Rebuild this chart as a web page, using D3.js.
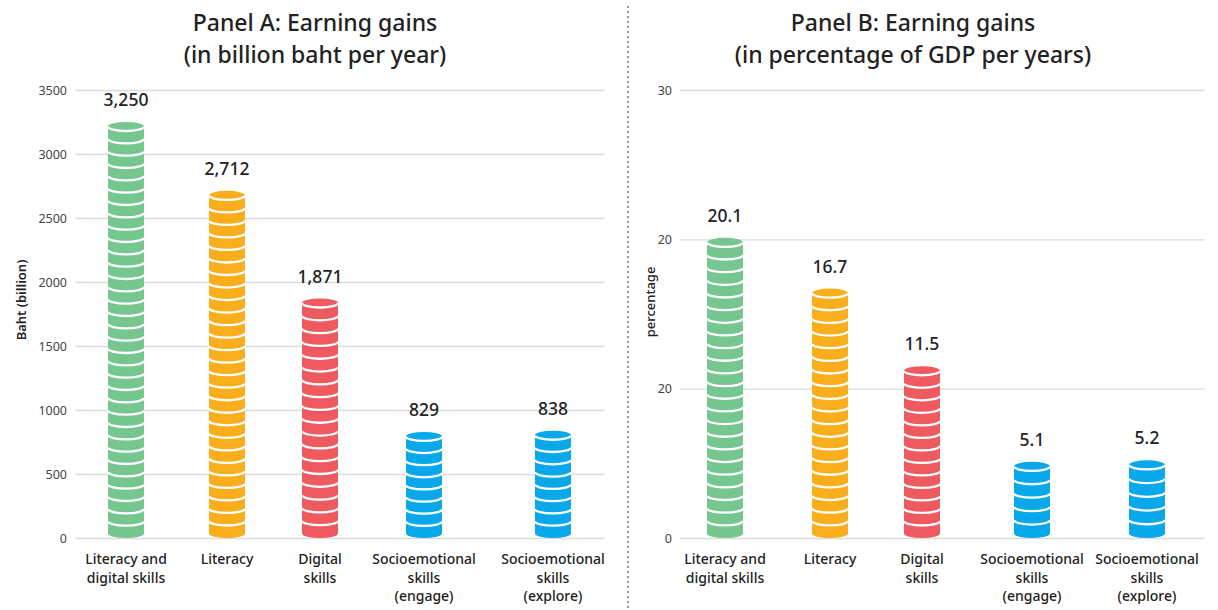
<!DOCTYPE html>
<html><head><meta charset="utf-8">
<script src="https://cdn.jsdelivr.net/npm/d3@7"></script>
<style>
html,body{margin:0;padding:0;background:#fff;}
svg{display:block;font-family:"Noto Sans",sans-serif;}
</style></head>
<body><svg id="c" width="1218" height="610"></svg>
<script>
const categories = [["Literacy and","digital skills"],["Literacy"],["Digital","skills"],["Socioemotional","skills","(engage)"],["Socioemotional","skills","(explore)"]];
const colors = ["#76c68f","#fbae1c","#ee5a5f","#08a8eb"];
const barColorIdx = [0,1,2,3,3];
const valuesA = [3250, 2712, 1871, 829, 838];
const labelsA = ["3,250","2,712","1,871","829","838"];
const valuesB = [20.1, 16.7, 11.5, 5.1, 5.2];
const labelsB = ["20.1","16.7","11.5","5.1","5.2"];
const ticksA = [0,500,1000,1500,2000,2500,3000,3500];
const tickLabelsA = ["0","500","1000","1500","2000","2500","3000","3500"];
const ticksB = [0,10,20,30];
const tickLabelsB = ["0","20","20","30"];

const svg = d3.select("#c");

// divider
svg.append("line").attr("x1",628).attr("x2",628).attr("y1",6).attr("y2",610)
  .attr("stroke","#9a9a9a").attr("stroke-width",2).attr("stroke-dasharray","2,3");

function panel(opts){
  const g = svg.append("g");
  const y = d3.scaleLinear().domain(opts.domain).range([538,90]);
  const x = d3.scaleLinear().domain(d3.range(categories.length)).range(opts.xr);
  // title
  opts.title.forEach((t,i)=>{
    g.append("text").attr("x",opts.cx).attr("y",31+i*32).attr("text-anchor","middle")
      .attr("font-size",23).attr("font-weight",500).attr("fill","#222").text(t);
  });
  // grid + axis
  const axis = d3.axisLeft(y).tickValues(opts.ticks).tickSize(-(opts.gx[1]-opts.gx[0]))
    .tickPadding(8).tickFormat((d,i)=>opts.tickLabels[i]);
  const ag = g.append("g").attr("transform",`translate(${opts.gx[0]},0)`).call(axis);
  ag.select(".domain").remove();
  ag.selectAll(".tick line").attr("stroke","#dcdcdc").attr("stroke-width",1.3);
  ag.selectAll(".tick text").attr("font-size",12.5).attr("fill","#444").attr("font-family","Noto Sans");
  // y title
  g.append("text").attr("transform",`translate(${opts.ytx},${opts.yty}) rotate(-90)`)
    .attr("text-anchor","middle").attr("font-size",13).attr("font-weight",opts.ytw).attr("fill","#222").text(opts.ytitle);
  // bars
  const rx = 18, ry = 4.5, cTarget = 12.5;
  opts.values.forEach((v,i)=>{
    const cx = x(i), y0 = y(0), yt = y(v), h = y0 - yt;
    const col = colors[barColorIdx[i]];
    const l = cx - rx, r = cx + rx;
    const n = Math.max(1, Math.round((h - 2*ry)/cTarget));
    const c = (h - 2*ry)/n;
    g.append("path").attr("fill",col)
      .attr("d",`M${l},${yt+ry} A${rx},${ry} 0 0 1 ${r},${yt+ry} L${r},${y0-ry} A${rx},${ry} 0 0 1 ${l},${y0-ry} Z`);
    for(let k=1;k<=n;k++){
      const yk = y0 - ry - k*c;
      g.append("path").attr("fill","none").attr("stroke","#fff").attr("stroke-width",2.3)
        .attr("d",`M${l},${yk} A${rx},${ry} 0 0 0 ${r},${yk}`);
    }
    g.append("text").attr("x",cx).attr("y",yt-16).attr("text-anchor","middle")
      .attr("font-size",17.5).attr("font-weight",500).attr("fill","#222").text(opts.labels[i]);
    categories[i].forEach((t,j)=>{
      g.append("text").attr("x",cx).attr("y",564+j*18.5).attr("text-anchor","middle")
        .attr("font-size",14).attr("font-weight",500).attr("fill","#222").text(t);
    });
  });
}

panel({domain:[0,3500], xr:[126,227,320,424,553], gx:[75,605], cx:315,
  title:["Panel A: Earning gains","(in billion baht per year)"],
  ticks:ticksA, tickLabels:tickLabelsA, values:valuesA, labels:labelsA,
  ytitle:"Baht (billion)", ytx:26, yty:300, ytw:600});
panel({domain:[0,30], xr:[725,830,922,1032,1147], gx:[680,1205], cx:913,
  title:["Panel B: Earning gains","(in percentage of GDP per years)"],
  ticks:ticksB, tickLabels:tickLabelsB, values:valuesB, labels:labelsB,
  ytitle:"percentage", ytx:655, yty:302, ytw:500});
</script></body></html>
